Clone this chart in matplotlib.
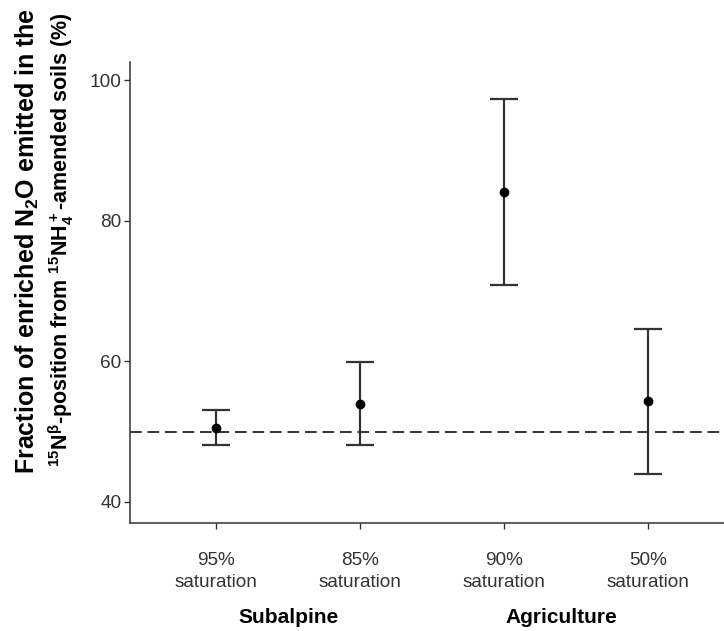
import numpy as np
import matplotlib
matplotlib.use("Agg")
import matplotlib.pyplot as plt

plt.rcParams['font.family'] = ['Liberation Sans', 'DejaVu Sans']
plt.rcParams['mathtext.default'] = 'regular'

# values
treatments = ['95%\nsaturation', '85%\nsaturation', '90%\nsaturation', '50%\nsaturation']
means = [50.5, 53.9, 84.1, 54.3]
upper = [53.1, 59.9, 97.4, 64.65]
lower = [48.05, 48.1, 70.8, 44.0]
groups = ['Subalpine', 'Agriculture']
group_pos = [1.5, 3.4]
reference = 50

x = np.arange(1, len(treatments) + 1)
m = np.array(means)
yerr = [m - np.array(lower), np.array(upper) - m]

fig = plt.figure(figsize=(7.24, 6.31), dpi=100)
ax = fig.add_axes([130 / 724, 1 - 523 / 631, 1 - 130 / 724, (523 - 62) / 631])

ax.axhline(reference, color='#333333', lw=1.4, dashes=[6, 3], zorder=1)
ax.errorbar(x, m, yerr=yerr, fmt='o', color='black', ms=6,
            ecolor='#333333', elinewidth=1.6, capsize=10, capthick=1.6, zorder=3)

ax.set_xlim(0.4, 4.53)
ax.set_ylim(37.0, 102.6)
ax.set_yticks([40, 60, 80, 100])
ax.set_xticks(x)
ax.set_xticklabels(treatments, linespacing=1.35)

for s in ['top', 'right']:
    ax.spines[s].set_visible(False)
for s in ['left', 'bottom']:
    ax.spines[s].set_color('#333333')
    ax.spines[s].set_linewidth(1.1)
ax.tick_params(axis='both', colors='#333333', labelcolor='#333333',
               labelsize=13.7, length=4, width=1)
ax.tick_params(axis='x', pad=17)
ax.tick_params(axis='y', pad=2)

for g, gx in zip(groups, group_pos):
    ax.text(gx, -0.206, g, transform=ax.get_xaxis_transform(),
            ha='center', va='center', fontsize=15, fontweight='bold')

fig.text(35 / 724, 1 - 241 / 631, r'Fraction of enriched N$_2$O emitted in the',
         rotation=90, rotation_mode='anchor', ha='center', va='baseline',
         fontsize=18, fontweight='bold')
fig.text(68 / 724, 1 - 240 / 631,
         r'$^{15}$N$^{\beta}$-position from $^{15}$NH$_4^+$-amended soils (%)',
         rotation=90, rotation_mode='anchor', ha='center', va='baseline',
         fontsize=15.5, fontweight='bold')

fig.savefig('out.png', dpi=100)
